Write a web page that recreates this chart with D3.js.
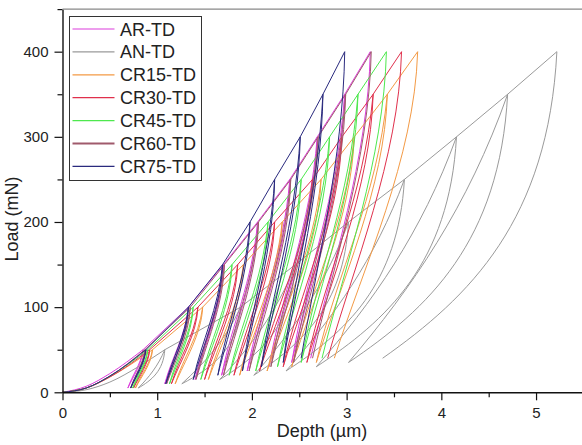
<!DOCTYPE html>
<html>
<head>
<meta charset="utf-8">
<script src="https://cdn.jsdelivr.net/npm/d3@7/dist/d3.min.js"></script>
<style>
  html, body { margin: 0; padding: 0; background: #fff; }
  svg { display: block; font-family: "Liberation Sans", Arial, sans-serif; }
</style>
</head>
<body>
<svg id="chart" width="582" height="445"></svg>
<script>
// ---- data ----
const seriesNames = ["AR-TD", "AN-TD", "CR15-TD", "CR30-TD", "CR45-TD", "CR60-TD", "CR75-TD"];
const seriesColors = ["#dc3cdc", "#9a9a9a", "#f39a45", "#e0304c", "#4ee84e", "#a05a6c", "#2a2a7e"];
const peakLoads = [50, 100, 150, 200, 250, 300, 350, 400];       // mN
const minLoads  = [5, 10, 15, 20, 25, 30, 35, 40];               // mN, end of each unloading

// depth (µm) at each peak load
const peakAR   = [0.85, 1.33, 1.70, 2.06, 2.40, 2.69, 2.98, 3.25];
const peakAN   = [1.08, 1.88, 2.46, 3.02, 3.61, 4.16, 4.70, 5.22];
const peakCR15 = [0.95, 1.48, 1.91, 2.32, 2.73, 3.08, 3.43, 3.75];
const peakCR30 = [0.92, 1.43, 1.85, 2.24, 2.64, 2.95, 3.28, 3.58];
const peakCR45 = [0.90, 1.38, 1.79, 2.17, 2.52, 2.82, 3.12, 3.42];
const peakCR60 = [0.87, 1.35, 1.71, 2.07, 2.41, 2.70, 2.99, 3.26];
const peakCR75 = [0.88, 1.33, 1.69, 1.98, 2.24, 2.51, 2.75, 2.98];

// depth (µm) at the end of each unloading
const resAR   = [0.69, 1.08, 1.40, 1.68, 1.95, 2.18, 2.42, 2.62];
const resAN   = [0.80, 1.26, 1.66, 2.02, 2.36, 2.68, 3.02, 3.38];
const resCR15 = [0.77, 1.19, 1.54, 1.87, 2.16, 2.42, 2.68, 2.87];
const resCR30 = [0.75, 1.15, 1.50, 1.81, 2.08, 2.33, 2.58, 2.80];
const resCR45 = [0.74, 1.13, 1.46, 1.76, 2.04, 2.27, 2.52, 2.74];
const resCR60 = [0.72, 1.10, 1.41, 1.70, 1.97, 2.20, 2.44, 2.64];
const resCR75 = [0.72, 1.09, 1.38, 1.64, 1.90, 2.10, 2.33, 2.52];

// first loading branch (depth, load)
const initAR   = [[0, 0], [0.25, 7], [0.5, 22], [0.85, 50]];
const initAN   = [[0, 0], [0.25, 3], [0.5, 12], [0.8, 30], [1.08, 50]];
const initCR15 = [[0, 0], [0.25, 5], [0.5, 18], [0.95, 50]];
const initCR30 = [[0, 0], [0.25, 5], [0.5, 18], [0.92, 50]];
const initCR45 = [[0, 0], [0.25, 5], [0.5, 19], [0.90, 50]];
const initCR60 = [[0, 0], [0.25, 5], [0.5, 19], [0.87, 50]];
const initCR75 = [[0, 0], [0.25, 5], [0.5, 19], [0.88, 50]];

const xTicks = [0, 1, 2, 3, 4, 5];
const xMinor = [0.5, 1.5, 2.5, 3.5, 4.5];
const yTicks = [0, 100, 200, 300, 400];
const yMinor = [50, 150, 250, 350, 450];

const peaks = [peakAR, peakAN, peakCR15, peakCR30, peakCR45, peakCR60, peakCR75];
const residuals = [resAR, resAN, resCR15, resCR30, resCR45, resCR60, resCR75];
const inits = [initAR, initAN, initCR15, initCR30, initCR45, initCR60, initCR75];

// ---- drawing style: loop shape (bezier handle fractions) ----
const narrowLoop = { u1: [-0.04, 0.35], u2: [0.35, 0.30], r1: [0.30, 0.35], r2: [0.15, 0.40] };
const wideLoop   = { u1: [-0.05, 0.55], u2: [0.50, 0.20], r1: [0.40, 0.28], r2: [0.25, 0.42] };

const svg = d3.select("#chart");
const x = d3.scaleLinear().domain([0, 5.5]).range([62.5, 583.4]);
const y = d3.scaleLinear().domain([0, 450]).range([392.3, 9.1]);

const plot = svg.append("g");
const initLine = d3.line().x(d => x(d[0])).y(d => y(d[1])).curve(d3.curveMonotoneX);

function loopPath(pk, rs, s) {
  const p = d3.path();
  p.moveTo(x(pk[0]), y(peakLoads[0]));
  for (let k = 0; k < pk.length; k++) {
    const ax = x(pk[k]), ay = y(peakLoads[k]);
    const bx = x(rs[k]), by = y(minLoads[k]);
    if (k > 0) p.lineTo(ax, ay);
    const dh = ax - bx, dp = ay - by;
    p.bezierCurveTo(ax + s.u1[0] * dh, ay - s.u1[1] * dp,
                    bx + s.u2[0] * dh, by + s.u2[1] * dp, bx, by);
    if (k < pk.length - 1) {
      p.bezierCurveTo(bx + s.r1[0] * dh, by + s.r1[1] * dp,
                      ax - s.r2[0] * dh, ay - s.r2[1] * dp, ax, ay);
    }
  }
  return p.toString();
}

seriesNames.forEach((name, i) => {
  const shape = i === 1 ? wideLoop : narrowLoop;
  plot.append("path")
    .attr("d", initLine(inits[i]) + loopPath(peaks[i], residuals[i], shape))
    .attr("fill", "none")
    .attr("stroke", seriesColors[i])
    .attr("stroke-width", 1)
    .attr("stroke-linejoin", "round");
});

// axes
const axisColor = "#111";
const gx = svg.append("g").attr("transform", `translate(0,${y(0)})`);
gx.call(d3.axisBottom(x).tickValues(xTicks).tickSize(8).tickSizeOuter(0).tickFormat(d3.format("d")));
const gxm = svg.append("g").attr("transform", `translate(0,${y(0)})`);
gxm.call(d3.axisBottom(x).tickValues(xMinor).tickSize(5).tickSizeOuter(0).tickFormat(""));
gxm.select(".domain").remove();

const gy = svg.append("g").attr("transform", `translate(${x(0)},0)`);
gy.call(d3.axisLeft(y).tickValues(yTicks).tickSize(8).tickSizeOuter(0).tickFormat(d3.format("d")));
const gym = svg.append("g").attr("transform", `translate(${x(0)},0)`);
gym.call(d3.axisLeft(y).tickValues(yMinor).tickSize(5).tickSizeOuter(0).tickFormat(""));
gym.select(".domain").remove();

[gx, gxm, gy, gym].forEach(g => {
  g.selectAll(".domain").attr("stroke", axisColor).attr("stroke-width", 1.4);
  g.selectAll(".tick line").attr("stroke", axisColor).attr("stroke-width", 1.2);
  g.selectAll(".tick text").attr("fill", "#222").style("font-size", "15px")
    .style("font-family", "'Liberation Sans', Arial, sans-serif");
});
gx.selectAll(".tick text").attr("dy", "0.95em");
gy.selectAll(".tick text").attr("dx", "-0.2em");

// top frame line
svg.append("line")
  .attr("x1", x(0)).attr("x2", 582).attr("y1", y(450)).attr("y2", y(450))
  .attr("stroke", "#888").attr("stroke-width", 1.2);

// axis titles
svg.append("text")
  .attr("x", 322).attr("y", 437)
  .attr("text-anchor", "middle")
  .attr("fill", "#222")
  .style("font-size", "18px")
  .text("Depth (µm)");

svg.append("text")
  .attr("transform", "translate(18,219) rotate(-90)")
  .attr("text-anchor", "middle")
  .attr("fill", "#222")
  .style("font-size", "18px")
  .text("Load (mN)");

// legend
const lg = svg.append("g");
lg.append("rect")
  .attr("x", 69.5).attr("y", 16.5).attr("width", 132).attr("height", 164)
  .attr("fill", "#fff").attr("stroke", "#333").attr("stroke-width", 1);
seriesNames.forEach((name, i) => {
  const cy = 29 + i * 22.9;
  lg.append("line")
    .attr("x1", 72.5).attr("x2", 114.5).attr("y1", cy).attr("y2", cy)
    .attr("stroke", seriesColors[i]).attr("stroke-width", i === 5 ? 2 : 1.2);
  lg.append("text")
    .attr("x", 120).attr("y", cy + 6.5)
    .attr("fill", "#222")
    .style("font-size", "18px")
    .text(name);
});
</script>
</body>
</html>
